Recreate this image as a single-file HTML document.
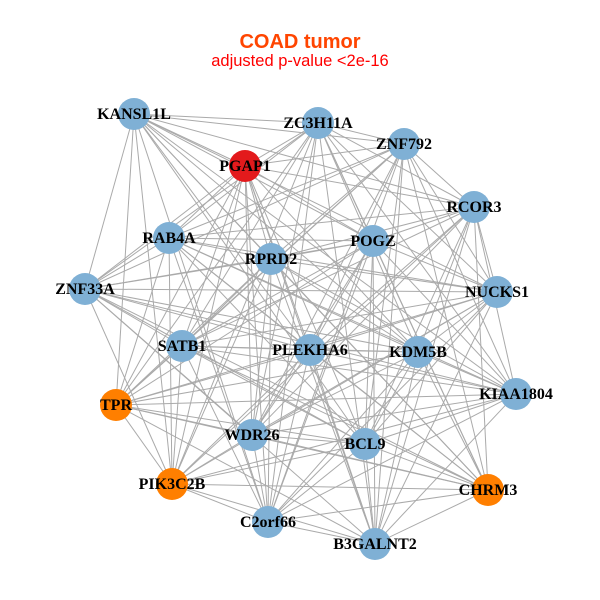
<!DOCTYPE html>
<html><head><meta charset="utf-8"><style>
html,body{margin:0;padding:0;background:#fff;width:600px;height:600px;overflow:hidden}
svg{display:block}
text{font-family:"Liberation Serif",serif;font-weight:bold;font-size:16px;fill:#000}
</style></head><body>
<svg id="s" width="600" height="600" viewBox="0 0 600 600">
<text x="300" y="48" text-anchor="middle" style="font-family:'Liberation Sans',sans-serif;font-size:20px;fill:#ff4500;font-weight:bold">COAD tumor</text>
<text x="300" y="66" text-anchor="middle" style="font-family:'Liberation Sans',sans-serif;font-size:16.5px;fill:#ff0000;font-weight:normal">adjusted p-value &lt;2e-16</text>
<g id="e" stroke="#aaaaaa" stroke-width="1"></g>
<g id="n"></g>
</svg>
<script>
var N=[["KANSL1L",134,114,"#7fb0d5"],["ZC3H11A",318,123,"#7fb0d5"],["ZNF792",404,144,"#7fb0d5"],["PGAP1",245,166,"#e31a1c"],["RCOR3",474,207,"#7fb0d5"],["RAB4A",169,238,"#7fb0d5"],["RPRD2",271,259,"#7fb0d5"],["POGZ",373,241,"#7fb0d5"],["NUCKS1",497,292,"#7fb0d5"],["ZNF33A",85,289,"#7fb0d5"],["SATB1",182,346,"#7fb0d5"],["PLEKHA6",310,350,"#7fb0d5"],["KDM5B",418,352,"#7fb0d5"],["KIAA1804",516,394,"#7fb0d5"],["TPR",116,405,"#ff7f00"],["WDR26",252,435,"#7fb0d5"],["BCL9",365,444,"#7fb0d5"],["PIK3C2B",172,484,"#ff7f00"],["CHRM3",488,490,"#ff7f00"],["C2orf66",268,522,"#7fb0d5"],["B3GALNT2",375,544,"#7fb0d5"]];
var ns="http://www.w3.org/2000/svg",e=document.getElementById("e"),g=document.getElementById("n");
for(var i=0;i<N.length;i++)for(var j=i+1;j<N.length;j++){
 if((i*7+j*3)%5==0)continue;
 var l=document.createElementNS(ns,"line");
 l.setAttribute("x1",N[i][1]);l.setAttribute("y1",N[i][2]);l.setAttribute("x2",N[j][1]);l.setAttribute("y2",N[j][2]);e.appendChild(l);}
N.forEach(function(d){var c=document.createElementNS(ns,"circle");c.setAttribute("cx",d[1]);c.setAttribute("cy",d[2]);c.setAttribute("r",16);c.setAttribute("fill",d[3]);g.appendChild(c);});
N.forEach(function(d){var t=document.createElementNS(ns,"text");t.setAttribute("x",d[1]);t.setAttribute("y",d[2]+5);t.setAttribute("text-anchor","middle");t.textContent=d[0];g.appendChild(t);});
</script>
</body></html>
